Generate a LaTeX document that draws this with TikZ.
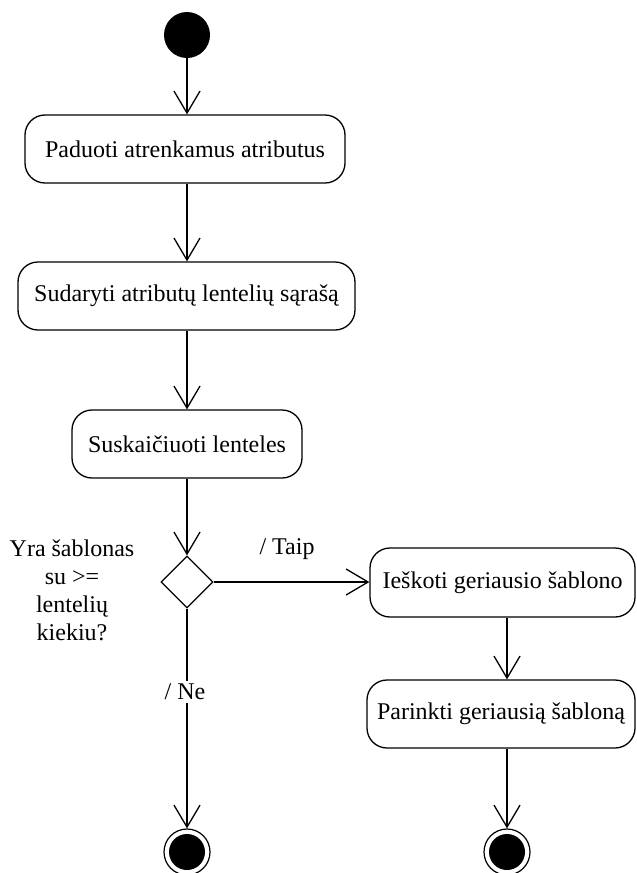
\documentclass[tikz,border=0pt]{standalone}
\usepackage{fontspec}
\setmainfont{Liberation Serif}
\usetikzlibrary{arrows.meta,shapes.geometric}
\begin{document}
\begin{tikzpicture}[x=1pt,y=-1pt,
  every node/.style={font=\fontsize{24}{28}\selectfont},
  action/.style={draw, line width=1.3pt, rounded corners=20pt, minimum height=68pt, inner sep=0pt},
  choice/.style={draw, diamond, line width=1.3pt, minimum width=52pt, minimum height=52pt, inner sep=0pt},
  startnode/.style={circle, fill=black, minimum size=46pt, inner sep=0pt},
  endnode/.style={circle, draw, line width=1.2pt, minimum size=46pt, inner sep=0pt,
    path picture={\fill (path picture bounding box.center) circle (18pt);}},
  flow/.style={line width=1.3pt, -{Straight Barb[length=22pt,width=26pt,line width=1.3pt]}},
  lbl/.style={inner sep=0pt}]
\useasboundingbox (0,0) rectangle (637,873);

\node[startnode] (s) at (187,35) {};
\node[action, minimum width=320pt] (a1) at (185,149) {Paduoti atrenkamus atributus};
\node[action, minimum width=337pt] (a2) at (186.5,296) {Sudaryti atributų lentelių sąrašą};
\node[action, minimum width=230pt] (a3) at (187,444) {Suskaičiuoti lenteles};
\node[choice] (d) at (187,582) {};
\node[action, minimum width=265pt, minimum height=69pt] (a4) at (502.5,582.5) {Ieškoti geriausio šablono};
\node[action, minimum width=268pt] (a5) at (501,714) {Parinkti geriausią šabloną};
\node[endnode] (e1) at (187,852) {};
\node[endnode] (e2) at (507,852) {};

\node[lbl, align=center] (q) at (72,590) {Yra šablonas\\su >=\\lentelių\\kiekiu?};
\node[lbl] (yes) at (287,549) {/ Taip};

\draw[flow] (s) -- (s |- a1.north);
\draw[flow] (a1.south -| s) -- (s |- a2.north);
\draw[flow] (a2.south -| s) -- (s |- a3.north);
\draw[flow] (a3.south -| d) -- (d.north);
\draw[flow] (d.east) -- (d.east -| a4.west);
\draw[flow] (d.south) -- (e1.north);
\draw[flow] (a4.south -| e2) -- (e2 |- a5.north);
\draw[flow] (a5.south -| e2) -- (e2.north);

% guard label sits on the line over a white patch
\node[lbl, fill=white, inner xsep=2pt, inner ysep=3pt] (no) at (185,692) {/ Ne};
\end{tikzpicture}
\end{document}
